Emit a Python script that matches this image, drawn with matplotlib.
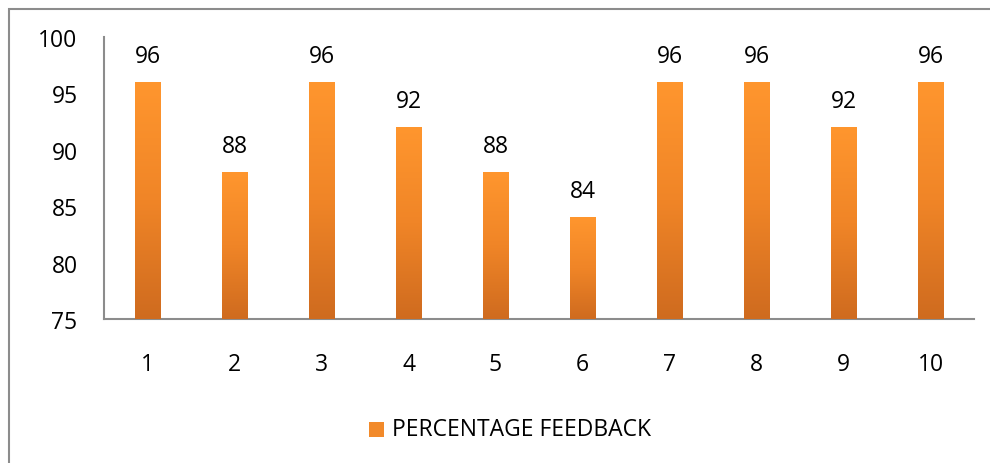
import numpy as np
import matplotlib.pyplot as plt
from matplotlib.patches import Rectangle
from matplotlib.colors import LinearSegmentedColormap

plt.rcParams['font.family'] = ['Open Sans', 'DejaVu Sans']

# data
categories = ["1", "2", "3", "4", "5", "6", "7", "8", "9", "10"]
feedback = [96, 88, 96, 92, 88, 84, 96, 96, 92, 96]
series_name = "PERCENTAGE FEEDBACK"
y_ticks = [75, 80, 85, 90, 95, 100]

fig = plt.figure(figsize=(9.9, 4.64), dpi=100)
ax = fig.add_axes([0.105, 0.3103, 0.879, 0.608])

# outer chart border (only left and top visible in the picture)
fig.patches.append(Rectangle((9 / 990, -0.1), 1.2, 1 - 10 / 464 + 0.1,
                             transform=fig.transFigure, fill=False,
                             edgecolor="#8c8c8c", linewidth=1.5))

x = np.arange(len(categories))
bars = ax.bar(x, feedback, width=0.29, bottom=0, color="#f28a2a", zorder=2)

# orange vertical gradient on each bar
grad_cmap = LinearSegmentedColormap.from_list("og", ["#cf6b1f", "#f08527", "#ff962e"])
grad = np.linspace(0, 1, 256).reshape(-1, 1)
for b in bars:
    x0 = b.get_x()
    w = b.get_width()
    h = b.get_height()
    im = ax.imshow(grad, cmap=grad_cmap, origin="lower", aspect="auto",
                   extent=[x0, x0 + w, 75, h], zorder=3)
    im.set_clip_path(b)

for xi, v in zip(x, feedback):
    ax.annotate(str(v), (xi, v), xytext=(0, 19), textcoords="offset points",
                ha="center", va="center", fontsize=16.5, color="#000000")

ax.set_xlim(-0.5, len(categories) - 0.5)
ax.set_ylim(75, 100)
ax.set_xticks(x)
ax.set_xticklabels(categories)
ax.set_yticks(y_ticks)
ax.tick_params(axis="both", length=0, labelsize=16.5, colors="#000000")
ax.tick_params(axis="y", pad=19)
ax.tick_params(axis="x", pad=24)
for s in ["top", "right"]:
    ax.spines[s].set_visible(False)
for s in ["left", "bottom"]:
    ax.spines[s].set_color("#8c8c8c")
    ax.spines[s].set_linewidth(1.5)

# legend
fig.patches.append(Rectangle((369 / 990, 1 - 438 / 464), 15 / 990, 15 / 464,
                             transform=fig.transFigure, facecolor="#f28a2a",
                             edgecolor="none"))
fig.text(392 / 990, 1 - 430 / 464, series_name, ha="left", va="center",
         fontsize=16.5, color="#000000")

fig.savefig("out.png", dpi=100)
